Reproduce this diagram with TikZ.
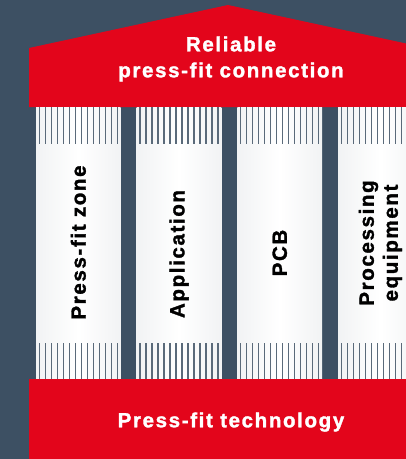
\documentclass[tikz,border=0pt]{standalone}
\usepackage{fontspec}
\setmainfont{Liberation Sans}[LetterSpace=8,BoldFeatures={FakeBold=1.6}]
\definecolor{slate}{HTML}{3D5063}
\definecolor{signal}{HTML}{E3051B}
\tikzset{
  headline/.style={text=white, font=\bfseries\fontsize{20.5}{26}\selectfont, align=center, inner sep=0pt},
  pillar text/.style={text=black, font=\bfseries\fontsize{20.5}{24}\selectfont, align=center, inner sep=0pt, rotate=90},
  stripe/.style={slate!85, line width=1.3pt}
}
\begin{document}
\begin{tikzpicture}[x=1pt,y=-1pt]
  \useasboundingbox (0,0) rectangle (406,459);
  \clip (0,0) rectangle (406,459);
  \fill[slate] (0,0) rectangle (406,459);
  \fill[signal] (29,107) -- (29,48) -- (228,5) -- (427,48) -- (427,107) -- cycle;
  \node[headline] (roof) at (231,59) {Reliable\\press-fit connection};
  \foreach \n/\y/\txt in {1/242.5/{Press-fit zone},2/254/Application,3/253/PCB,4/243/{Processing\\equipment}} {
    \pgfmathsetmacro{\x}{36+100.7*(\n-1)}
    \shade[left color=slate!7, right color=slate!7, middle color=white] (\x,107) rectangle ++(84.7,272);
    \foreach \i in {0,...,13} {
      \draw[stripe] (\x+3.3+6*\i,107) -- ++(0,37);
      \draw[stripe] (\x+3.3+6*\i,343) -- ++(0,36);
    }
    \node[pillar text] (pillar\n) at (\x+42.35,\y) {\txt};
  }
  \fill[signal] (29,379) rectangle (427,459);
  \node[headline, anchor=base] (base) at (231,427.3) {Press-fit technology};
\end{tikzpicture}
\end{document}
